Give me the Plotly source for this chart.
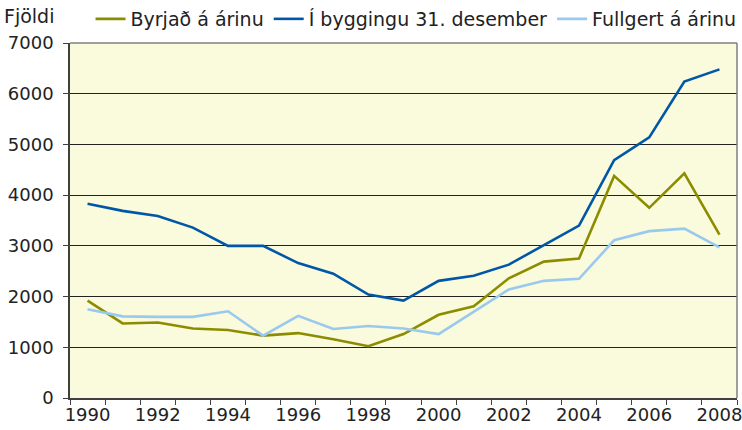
import plotly.graph_objects as go

years = list(range(1990, 2009))
byrjad = [1920, 1470, 1490, 1370, 1340, 1230, 1280, 1160, 1020, 1260,
          1640, 1810, 2360, 2690, 2750, 4380, 3750, 4430, 3220]
i_byggingu = [3830, 3690, 3590, 3360, 3000, 3000, 2660, 2450, 2040, 1920,
              2310, 2410, 2630, 3010, 3400, 4690, 5140, 6240, 6480]
fullgert = [1750, 1610, 1600, 1600, 1710, 1230, 1620, 1360, 1420, 1370,
            1260, 1700, 2140, 2310, 2350, 3110, 3290, 3340, 2970]
series_names = ["Byrjað á árinu", "Í byggingu 31. desember", "Fullgert á árinu"]
colors = ["#8C8C00", "#0057A8", "#99C9EE"]
x_tick_years = list(range(1990, 2009, 2))
y_ticks = list(range(0, 8000, 1000))

fig = go.Figure()
for name, vals, c in zip(series_names, [byrjad, i_byggingu, fullgert], colors):
    fig.add_trace(go.Scatter(x=years, y=vals, mode="lines", name=name,
                             line=dict(color=c, width=2.6)))

boundaries = [y - 0.5 for y in years] + [years[-1] + 0.5]

fig.update_layout(
    width=742, height=430,
    margin=dict(l=70, r=5, t=43, b=32, autoexpand=False),
    paper_bgcolor="white",
    plot_bgcolor="#FAFADC",
    font=dict(family="DejaVu Sans", size=18, color="#222222"),
    legend=dict(orientation="h", xref="container", yref="container",
                x=0.122, y=1.0, xanchor="left", yanchor="top",
                font=dict(size=19), itemwidth=30, tracegroupgap=0,
                bgcolor="rgba(0,0,0,0)"),
    xaxis=dict(range=[1989.5, 2008.5], tickvals=x_tick_years,
               ticktext=[str(y) for y in x_tick_years],
               ticks="", showgrid=False, zeroline=False,
               showline=True, linecolor="#404040", linewidth=1.5,
               mirror=False, tickfont=dict(size=18), automargin=False,
               ticklabeloverflow="allow",
               minor=dict(tickvals=boundaries, ticks="outside", ticklen=5,
                          tickcolor="#404040", showgrid=False)),
    yaxis=dict(range=[0, 7000], tickvals=y_ticks, ticks="outside", ticklen=5,
               tickcolor="#404040", showgrid=True, gridcolor="#222222",
               gridwidth=1, zeroline=False, showline=True, automargin=False,
               linecolor="#404040", linewidth=1.5, tickfont=dict(size=18),
               ticklabelstandoff=6, ticklabeloverflow="allow"),
    annotations=[dict(text="Fjöldi", xref="paper", yref="paper", x=0, y=1,
                      xshift=-68, yshift=14, xanchor="left", yanchor="bottom",
                      showarrow=False, font=dict(size=19))],
    shapes=[dict(type="line", xref="paper", yref="paper", x0=0, x1=1, y0=1, y1=1,
                 line=dict(color="#808080", width=1.5)),
            dict(type="line", xref="paper", yref="paper", x0=1, x1=1, y0=0, y1=1,
                 line=dict(color="#808080", width=1.5))],
)

fig.write_html("out.html", config={"displayModeBar": False},
               post_script="document.body.style.margin='0';")
